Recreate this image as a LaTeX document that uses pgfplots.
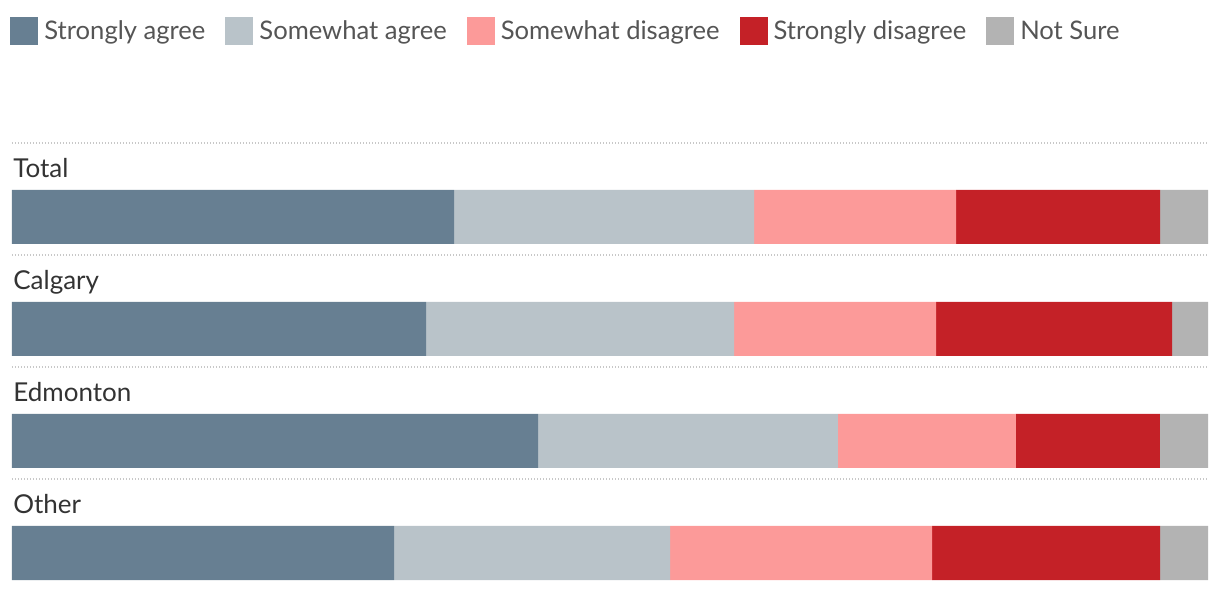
\documentclass[border=0pt]{standalone}
\usepackage{pgfplots}
\pgfplotsset{compat=1.18}
\usepackage{pgfplotstable}
\usepackage{fontspec}
\setmainfont{Lato}
\definecolor{sagree}{HTML}{677F92}
\definecolor{wagree}{HTML}{B9C3C9}
\definecolor{wdis}{HTML}{FC9A99}
\definecolor{sdis}{HTML}{C42127}
\definecolor{nsure}{HTML}{B3B3B3}
\definecolor{legtext}{HTML}{555555}
\definecolor{rowtext}{HTML}{333333}
\definecolor{dotcol}{HTML}{C8C8C8}
\pgfplotstableread{
y    sa     wa     wd     sd     ns
217  36.96  25.08  16.89  17.06  4.01
329  34.62  25.75  16.89  19.73  3.01
441  43.98  25.08  14.88  12.04  4.02
553  31.94  23.08  21.91  19.06  4.01
}\data
\begin{document}
\begin{tikzpicture}
\begin{axis}[
  scale only axis, width=598pt, height=296pt,
  xmin=0, xmax=100, ymin=0, ymax=592, y dir=reverse,
  hide axis, clip=false,
  xbar stacked, bar width=27pt,
  legend columns=5,
  legend style={at={(axis cs:-0.167,17)}, anchor=north west, draw=none, fill=none,
    inner sep=0pt, font=\fontsize{12.8}{14}\selectfont\color{legtext},
    nodes={inner sep=0pt},
    /tikz/every even column/.append style={column sep=10pt}},
  legend image code/.code={\fill[#1,draw=none] (0pt,-7pt) rectangle (14pt,7pt); \path (17pt,0pt);},
]
\addplot[fill=sagree, draw=none] table[x=sa, y=y] {\data};
\addplot[fill=wagree, draw=none] table[x=wa, y=y] {\data};
\addplot[fill=wdis, draw=none] table[x=wd, y=y] {\data};
\addplot[fill=sdis, draw=none] table[x=sd, y=y] {\data};
\addplot[fill=nsure, draw=none] table[x=ns, y=y] {\data};
\legend{Strongly agree, Somewhat agree, Somewhat disagree, Strongly disagree, Not Sure}
\foreach \yy in {143,255,367,479} {
  \edef\tmp{\noexpand\draw[dotcol, line width=0.6pt, dash pattern=on 0.6pt off 0.9pt] (axis cs:0,\yy) -- (axis cs:100,\yy);}
  \tmp
}
\foreach \lab/\yy in {Total/178, Calgary/290, Edmonton/402, Other/514} {
  \edef\tmp{\noexpand\node[anchor=base west, inner sep=0pt, text=rowtext, font=\noexpand\fontsize{13}{14}\noexpand\selectfont] at (axis cs:0.08,\yy) {\lab};}
  \tmp
}
\end{axis}
\pgfresetboundingbox
\path[use as bounding box] ([xshift=-6pt]current axis.south west) rectangle ([xshift=6pt]current axis.north east);
\end{tikzpicture}
\end{document}
